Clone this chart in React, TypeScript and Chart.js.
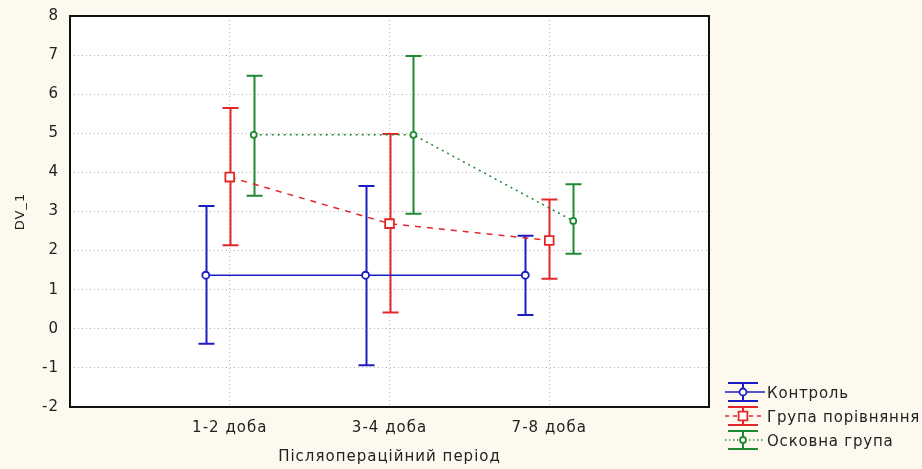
import React, { useEffect, useRef } from "react";
import { Chart, registerables } from "chart.js";

Chart.register(...registerables);

const categories = ["1-2 доба", "3-4 доба", "7-8 доба"];
const seriesNames = ["Контроль", "Група порівняння", "Осковна група"];
const controlMean = [1.37, 1.37, 1.37];
const controlLow = [-0.38, -0.93, 0.35];
const controlHigh = [3.14, 3.65, 2.38];
const compareMean = [3.88, 2.69, 2.26];
const compareLow = [2.14, 0.42, 1.28];
const compareHigh = [5.65, 4.98, 3.31];
const mainMean = [4.96, 4.96, 2.76];
const mainLow = [3.4, 2.94, 1.92];
const mainHigh = [6.47, 6.98, 3.7];
const yTicks = [-2, -1, 0, 1, 2, 3, 4, 5, 6, 7, 8];
const yTitle = "DV_1";
const xTitle = "Післяопераційний період";

const means = [controlMean, compareMean, mainMean];
const lows = [controlLow, compareLow, mainLow];
const highs = [controlHigh, compareHigh, mainHigh];

const colors = ["#1c1cc4", "#e3262a", "#1f8a32"];
const offsets = [-0.15, 0, 0.15];
const dashes: number[][] = [[], [6, 6], [2, 4]];
const pointStyles = ["circle", "rect", "circle"];
const pointRadii = [3.5, 6.2, 3];
const capHalf = [8, 8, 8];
const FONT = "'DejaVu Sans', sans-serif";

function drawMarker(ctx: CanvasRenderingContext2D, i: number, x: number, y: number) {
  ctx.save();
  ctx.setLineDash([]);
  ctx.fillStyle = "#ffffff";
  ctx.strokeStyle = colors[i];
  ctx.lineWidth = 1.8;
  ctx.beginPath();
  if (pointStyles[i] === "rect") {
    const s = pointRadii[i] * Math.SQRT1_2;
    ctx.rect(x - s, y - s, 2 * s, 2 * s);
  } else {
    ctx.arc(x, y, pointRadii[i], 0, Math.PI * 2);
  }
  ctx.fill();
  ctx.stroke();
  ctx.restore();
}

const errorBarPlugin = {
  id: "errorBars",
  beforeDraw(chart: any) {
    const { ctx, chartArea } = chart;
    ctx.fillStyle = "#fdf9ee";
    ctx.fillRect(0, 0, chart.width, chart.height);
    ctx.fillStyle = "#ffffff";
    ctx.fillRect(chartArea.left, chartArea.top, chartArea.right - chartArea.left, chartArea.bottom - chartArea.top);
    (ctx as any).letterSpacing = "1px";
  },
  beforeDatasetsDraw(chart: any) {
    const { ctx } = chart;
    const yScale = chart.scales.y;
    ctx.save();
    means.forEach((_, i) => {
      const meta = chart.getDatasetMeta(i);
      ctx.strokeStyle = colors[i];
      ctx.lineWidth = 2;
      ctx.setLineDash([]);
      meta.data.forEach((pt: any, j: number) => {
        const x = Math.round(pt.x) + 0.5;
        const yt = yScale.getPixelForValue(highs[i][j]);
        const yb = yScale.getPixelForValue(lows[i][j]);
        ctx.beginPath();
        ctx.moveTo(x, yt);
        ctx.lineTo(x, yb);
        ctx.moveTo(x - capHalf[i], yt);
        ctx.lineTo(x + capHalf[i], yt);
        ctx.moveTo(x - capHalf[i], yb);
        ctx.lineTo(x + capHalf[i], yb);
        ctx.stroke();
      });
    });
    ctx.restore();
  },
  afterDraw(chart: any) {
    const { ctx, chartArea } = chart;
    ctx.save();
    ctx.strokeStyle = "#111111";
    ctx.lineWidth = 2;
    ctx.setLineDash([]);
    ctx.strokeRect(chartArea.left, chartArea.top, chartArea.right - chartArea.left, chartArea.bottom - chartArea.top);
    const lx0 = 725;
    const lx1 = 765;
    const cx = 743;
    const centers = [392, 416, 440];
    seriesNames.forEach((name, i) => {
      const cy = centers[i];
      ctx.strokeStyle = colors[i];
      ctx.lineWidth = 2;
      ctx.setLineDash([]);
      ctx.beginPath();
      ctx.moveTo(cx, cy - 9);
      ctx.lineTo(cx, cy + 9);
      ctx.moveTo(cx - 15, cy - 9);
      ctx.lineTo(cx + 15, cy - 9);
      ctx.moveTo(cx - 15, cy + 9);
      ctx.lineTo(cx + 15, cy + 9);
      ctx.stroke();
      ctx.lineWidth = 1.5;
      ctx.setLineDash(dashes[i].length ? [dashes[i][0] / 1.5, dashes[i][1] / 1.5] : []);
      ctx.beginPath();
      ctx.moveTo(lx0, cy);
      ctx.lineTo(lx1, cy);
      ctx.stroke();
      drawMarker(ctx, i, cx, cy);
      ctx.fillStyle = "#222222";
      ctx.font = `15px ${FONT}`;
      (ctx as any).letterSpacing = "0.8px";
      ctx.textBaseline = "middle";
      ctx.textAlign = "left";
      ctx.fillText(name, lx1 + 2, cy + 2);
    });
    ctx.restore();
  },
};

export default function App() {
  const ref = useRef<HTMLCanvasElement | null>(null);
  useEffect(() => {
    document.body.style.margin = "0";
    const canvas = ref.current;
    if (!canvas) return;
    const datasets = means.map((m, i) => ({
      label: seriesNames[i],
      data: m.map((v, j) => ({ x: j + 1 + offsets[i], y: v })),
      borderColor: colors[i],
      backgroundColor: "#ffffff",
      borderWidth: 1.5,
      borderDash: dashes[i],
      pointStyle: pointStyles[i] as any,
      pointRadius: pointRadii[i],
      pointBorderWidth: 1.8,
      pointBackgroundColor: "#ffffff",
      pointBorderColor: colors[i],
      tension: 0,
      fill: false,
    }));
    const chart = new Chart(canvas, {
      type: "line",
      data: { datasets },
      options: {
        animation: false,
        responsive: false,
        devicePixelRatio: 1,
        layout: { padding: { top: 16, right: 213, left: 0, bottom: 0 } },
        plugins: {
          legend: { display: false },
          tooltip: { enabled: false },
          title: { display: false },
        },
        scales: {
          x: {
            type: "linear",
            min: 0,
            max: categories.length + 1,
            afterFit: (s: any) => {
              s.height = 62;
              s.paddingLeft = 0;
              s.paddingRight = 0;
            },
            afterBuildTicks: (s: any) => {
              s.ticks = [0, 1, 2, 3, 4].map((v) => ({ value: v }));
            },
            ticks: {
              padding: 12,
              color: "#222222",
              font: { family: FONT, size: 15 },
              maxRotation: 0,
              autoSkip: false,
              callback: (v: any) => categories[Number(v) - 1] ?? "",
            },
            grid: {
              color: "#b5b5b5",
              lineWidth: 1,
              drawTicks: false,
            },
            border: { display: false, dash: [1, 3] },
            title: {
              display: true,
              text: xTitle,
              color: "#222222",
              font: { family: FONT, size: 15 },
              padding: { top: 0, bottom: 3 },
            },
          },
          y: {
            type: "linear",
            min: yTicks[0],
            max: yTicks[yTicks.length - 1],
            afterFit: (s: any) => {
              s.width = 70;
              s.paddingTop = 0;
              s.paddingBottom = 0;
            },
            afterBuildTicks: (s: any) => {
              s.ticks = yTicks.map((v) => ({ value: v }));
            },
            ticks: {
              padding: 11,
              color: "#222222",
              font: { family: FONT, size: 15 },
            },
            grid: {
              color: "#b5b5b5",
              lineWidth: 1,
              drawTicks: false,
            },
            border: { display: false, dash: [1, 3] },
            title: {
              display: true,
              text: yTitle,
              color: "#222222",
              font: { family: FONT, size: 13 },
              padding: { top: 13, bottom: 0 },
            },
          },
        },
      },
      plugins: [errorBarPlugin],
    });
    return () => chart.destroy();
  }, []);
  return (
    <div style={{ width: 922, height: 469 }}>
      <canvas ref={ref} width={922} height={469} style={{ display: "block", width: 922, height: 469 }} />
    </div>
  );
}
